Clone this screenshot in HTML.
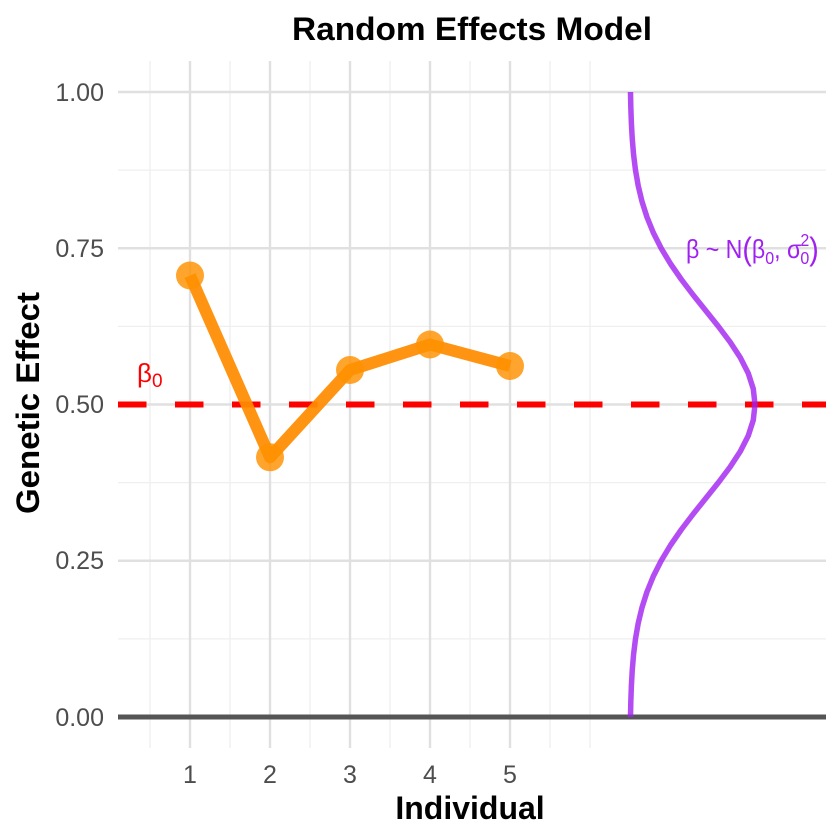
<!DOCTYPE html>
<html>
<head>
<meta charset="utf-8">
<style>
  html, body { margin: 0; padding: 0; background: #ffffff; }
  svg { display: block; }
  text { font-family: "Liberation Sans", "DejaVu Sans", sans-serif; }
</style>
</head>
<body>
<svg width="840" height="840" viewBox="0 0 840 840" xmlns="http://www.w3.org/2000/svg">
  <rect x="0" y="0" width="840" height="840" fill="#ffffff"/>

  <!-- minor horizontal grid -->
  <g stroke="#EFEFEF" stroke-width="1.3">
    <line x1="118" y1="170.1" x2="826" y2="170.1"/>
    <line x1="118" y1="326.4" x2="826" y2="326.4"/>
    <line x1="118" y1="482.6" x2="826" y2="482.6"/>
    <line x1="118" y1="638.9" x2="826" y2="638.9"/>
  </g>
  <!-- minor vertical grid -->
  <g stroke="#EFEFEF" stroke-width="1.3">
    <line x1="150" y1="61" x2="150" y2="748"/>
    <line x1="230" y1="61" x2="230" y2="748"/>
    <line x1="310" y1="61" x2="310" y2="748"/>
    <line x1="390" y1="61" x2="390" y2="748"/>
    <line x1="470" y1="61" x2="470" y2="748"/>
    <line x1="550" y1="61" x2="550" y2="748"/>
    <line x1="590" y1="61" x2="590" y2="748"/>
  </g>
  <!-- major horizontal grid -->
  <g stroke="#E0E0E0" stroke-width="2.4">
    <line x1="118" y1="92" x2="826" y2="92"/>
    <line x1="118" y1="248.25" x2="826" y2="248.25"/>
    <line x1="118" y1="404.5" x2="826" y2="404.5"/>
    <line x1="118" y1="560.75" x2="826" y2="560.75"/>
  </g>
  <!-- major vertical grid -->
  <g stroke="#E0E0E0" stroke-width="2.4">
    <line x1="190" y1="61" x2="190" y2="748"/>
    <line x1="270" y1="61" x2="270" y2="748"/>
    <line x1="350" y1="61" x2="350" y2="748"/>
    <line x1="430" y1="61" x2="430" y2="748"/>
    <line x1="510" y1="61" x2="510" y2="748"/>
  </g>

  <!-- zero line -->
  <line x1="118" y1="717" x2="826" y2="717" stroke="#555555" stroke-width="5"/>

  <!-- red dashed beta0 line -->
  <line x1="118" y1="404.5" x2="826" y2="404.5" stroke="#FF0000" stroke-width="6" stroke-dasharray="28.5 28.5"/>

  <!-- purple normal density curve -->
  <polyline fill="none" stroke="rgba(160,32,240,0.8)" stroke-width="5.5" stroke-linejoin="round"
    points="630.48,717 630.83,701.375 631.39,685.75 632.26,670.125 633.57,654.5 635.49,638.875 638.21,623.25 641.96,607.625 646.92,592 653.28,576.375 661.17,560.75 670.58,545.125 681.39,529.5 693.29,513.875 705.82,498.25 718.33,482.625 730.09,467 740.31,451.375 748.25,435.75 753.28,420.125 755,404.5 753.28,388.875 748.25,373.25 740.31,357.625 730.09,342 718.33,326.375 705.82,310.75 693.29,295.125 681.39,279.5 670.58,263.875 661.17,248.25 653.28,232.625 646.92,217 641.96,201.375 638.21,185.75 635.49,170.125 633.57,154.5 632.26,138.875 631.39,123.25 630.83,107.625 630.48,92"/>

  <!-- orange line -->
  <polyline fill="none" stroke="rgba(255,140,0,0.93)" stroke-width="12" stroke-linejoin="round" stroke-linecap="butt"
    points="190,275.5 270,457.3 350,370 430,344.5 510,366"/>
  <!-- points -->
  <g fill="rgba(255,145,0,0.82)">
    <circle cx="190" cy="275.5" r="14"/>
    <circle cx="270" cy="457.3" r="14"/>
    <circle cx="350" cy="370" r="14"/>
    <circle cx="430" cy="344.5" r="14"/>
    <circle cx="510" cy="366" r="14"/>
  </g>

  <!-- beta0 label -->
  <text x="137" y="382" font-size="26" fill="#FF0000">β</text>
  <text x="152" y="387" font-size="19" fill="#FF0000">0</text>

  <!-- distribution label -->
  <g fill="#A020F0" transform="translate(686,258) scale(0.89,1)">
    <text x="0" y="0" font-size="26">β ~ N</text>
    <text x="63.4" y="2" font-size="32">(</text>
    <text x="74" y="0" font-size="26">β</text>
    <text x="89" y="6" font-size="18">0</text>
    <text x="99" y="0" font-size="26">,</text>
    <text x="113.5" y="0" font-size="26">σ</text>
    <text x="128.5" y="-12" font-size="18">2</text>
    <text x="128.5" y="6" font-size="18">0</text>
    <text x="138.5" y="2" font-size="32">)</text>
  </g>

  <!-- y tick labels -->
  <g font-size="25" fill="#4D4D4D" text-anchor="end">
    <text x="104" y="101">1.00</text>
    <text x="104" y="257">0.75</text>
    <text x="104" y="413">0.50</text>
    <text x="104" y="569">0.25</text>
    <text x="104" y="726">0.00</text>
  </g>
  <!-- x tick labels -->
  <g font-size="25" fill="#4D4D4D" text-anchor="middle">
    <text x="190" y="783">1</text>
    <text x="270" y="783">2</text>
    <text x="350" y="783">3</text>
    <text x="430" y="783">4</text>
    <text x="510" y="783">5</text>
  </g>

  <!-- titles -->
  <text x="472" y="40" font-size="32" font-weight="bold" fill="#000000" text-anchor="middle" textLength="360" lengthAdjust="spacingAndGlyphs">Random Effects Model</text>
  <text x="470" y="819" font-size="32" font-weight="bold" fill="#000000" text-anchor="middle">Individual</text>
  <text x="0" y="0" font-size="32" font-weight="bold" fill="#000000" text-anchor="middle" transform="translate(39,403) rotate(-90)" textLength="222" lengthAdjust="spacingAndGlyphs">Genetic Effect</text>
</svg>
</body>
</html>
